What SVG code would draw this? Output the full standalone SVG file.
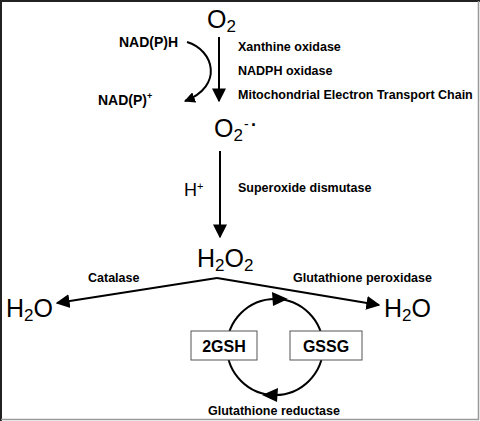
<svg xmlns="http://www.w3.org/2000/svg" width="480" height="421" viewBox="0 0 480 421">
<defs>
<marker id="ah" viewBox="0 0 10 10" refX="9" refY="5" markerWidth="11" markerHeight="11" markerUnits="userSpaceOnUse" orient="auto">
<path d="M0,0 L10,5 L0,10 z" fill="#000"/>
</marker>
<marker id="ahl" viewBox="0 0 10 10" refX="9" refY="5" markerWidth="14" markerHeight="16" markerUnits="userSpaceOnUse" orient="auto">
<path d="M0,0 L10,5 L0,10 z" fill="#000"/>
</marker>
</defs>
<style>
.big{font-family:"Liberation Sans",Arial,sans-serif;font-size:25px;fill:#000}
.lab{font-family:"Liberation Sans",Arial,sans-serif;font-size:12.5px;font-weight:bold;fill:#000}
.nad{font-family:"Liberation Sans",Arial,sans-serif;font-size:14px;font-weight:bold;fill:#000}
.box{fill:#fff;stroke:#555;stroke-width:1}
.boxt{font-family:"Liberation Sans",Arial,sans-serif;font-size:16px;font-weight:bold;fill:#000}
.ln{fill:none;stroke:#000;stroke-width:2}
</style>
<rect x="0" y="0" width="480" height="421" fill="#fff"/>
<path d="M1,421 V1 H480" fill="none" stroke="#222" stroke-width="2"/>
<path d="M478.5,1 V419.5 H1" fill="none" stroke="#999" stroke-width="1.5"/>

<g id="connectors">
<line class="ln" x1="219" y1="37" x2="219" y2="101" marker-end="url(#ahl)"/>
<path class="ln" d="M187,42 C214,50 224,86 185,101" marker-end="url(#ah)"/>
<line class="ln" x1="220" y1="151" x2="220" y2="237" marker-end="url(#ahl)"/>
<path class="ln" d="M217,278 L57,303" marker-end="url(#ahl)"/>
<path class="ln" d="M217,278 L379,305" marker-end="url(#ahl)"/>
<circle class="ln" cx="275" cy="347" r="48"/>
<path d="M272,292 L288,299 L273,306 z" fill="#000"/>
<path d="M278,388 L262,395 L277,402 z" fill="#000"/>
</g>

<g id="O2"><text class="big" x="207" y="28">O<tspan font-size="17" dy="4">2</tspan></text></g>
<g id="NADPH"><text class="nad" x="119" y="47">NAD(P)H</text></g>
<g id="NADP"><text class="nad" x="98" y="105">NAD(P)<tspan font-size="9" dy="-6">+</tspan></text></g>
<g id="enzymes1">
<text class="lab" x="238" y="51">Xanthine oxidase</text>
<text class="lab" x="238" y="75">NADPH oxidase</text>
<text class="lab" x="238" y="99">Mitochondrial Electron Transport Chain</text>
</g>
<g id="superoxide"><text class="big" x="214" y="137">O<tspan font-size="17" dy="4">2</tspan></text><text class="big" x="244" y="129" style="font-size:14px">-</text><text class="big" x="251" y="131" style="font-size:18px;font-weight:bold">·</text></g>
<g id="Hplus"><text class="big" x="184" y="196" style="font-size:18px">H<tspan font-size="11" dy="-6">+</tspan></text></g>
<g id="SOD"><text class="lab" x="238" y="192">Superoxide dismutase</text></g>
<g id="H2O2"><text class="big" x="197" y="267">H<tspan font-size="17" dy="4">2</tspan><tspan dy="-4">O</tspan><tspan font-size="17" dy="4">2</tspan></text></g>
<g id="catalase"><text class="lab" x="88" y="282">Catalase</text></g>
<g id="GPx"><text class="lab" x="293" y="282">Glutathione peroxidase</text></g>
<g id="H2O_left"><text class="big" x="6" y="317">H<tspan font-size="17" dy="4">2</tspan><tspan dy="-4">O</tspan></text></g>
<g id="H2O_right"><text class="big" x="384" y="317">H<tspan font-size="17" dy="4">2</tspan><tspan dy="-4">O</tspan></text></g>
<g id="GSH"><rect class="box" x="191" y="331" width="66" height="29"/><text class="boxt" x="224" y="351.5" text-anchor="middle">2GSH</text></g>
<g id="GSSG"><rect class="box" x="290" y="331" width="72" height="29"/><text class="boxt" x="326" y="351.5" text-anchor="middle">GSSG</text></g>
<g id="GR"><text class="lab" x="208" y="415">Glutathione reductase</text></g>
</svg>
